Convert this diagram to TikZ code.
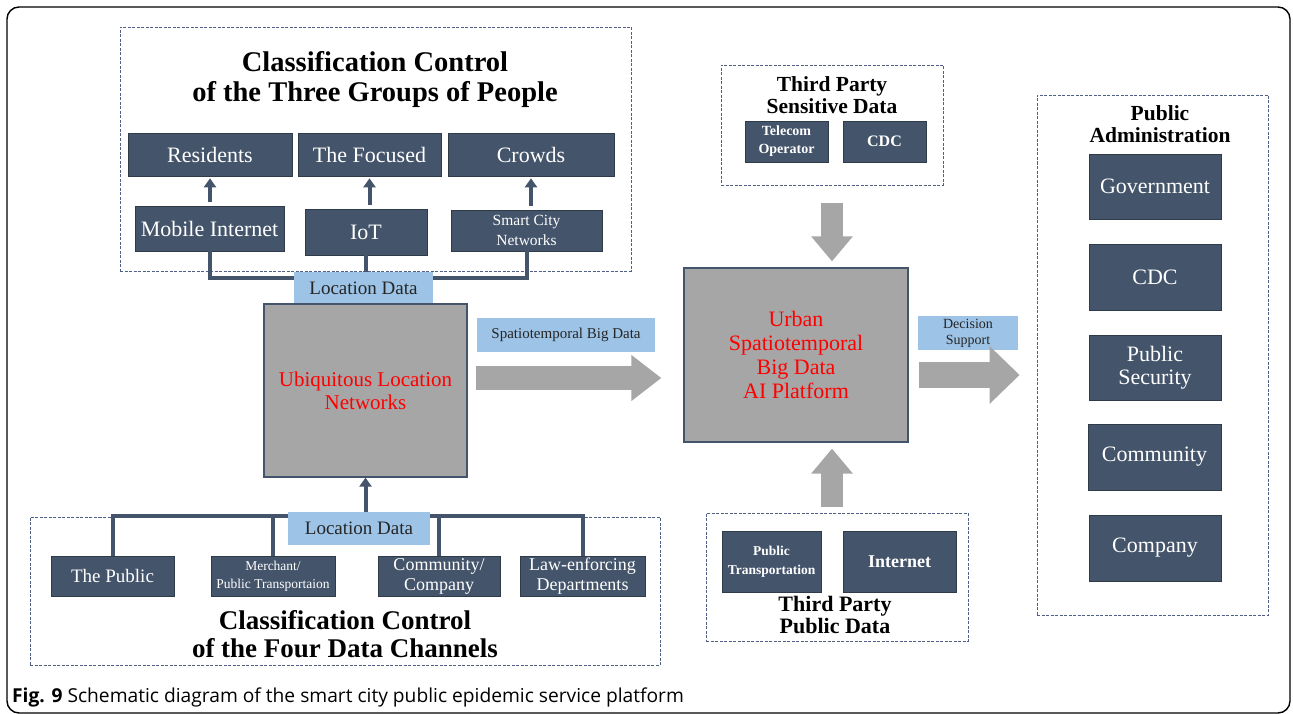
\documentclass[tikz,border=0pt]{standalone}
\usepackage{fontspec}
\setmainfont{Liberation Serif}
\newfontfamily\capfont{Open Sans}
\usetikzlibrary{arrows.meta}

\definecolor{boxblue}{HTML}{44546A}
\definecolor{labelblue}{HTML}{9DC3E6}
\definecolor{platgray}{HTML}{A6A6A6}
\definecolor{dashblue}{HTML}{4F5F85}

\tikzset{
  darkbox/.style = {fill = boxblue, draw = boxblue!70!black, line width = 0.6pt,
    text = white, align = center, inner sep = 0pt},
  labelbox/.style = {fill = labelblue, text = black!85, align = center, inner sep = 0pt},
  platbox/.style = {fill = platgray, draw = boxblue, line width = 1.2pt,
    text = red, align = center, inner sep = 0pt},
  groupbox/.style = {draw = dashblue, line width = 0.8pt, dash pattern = on 3pt off 1.5pt,
    inner sep = 0pt},
  link/.style = {draw = boxblue, line width = 4pt},
  linkarrow/.style = {link, -{Triangle[width = 12pt, length = 9pt]}},
  bigarrow/.style = {draw = platgray, line width = 24pt, -{Triangle[width = 44pt, length = 30pt]}},
  downarrow/.style = {draw = platgray, line width = 22pt, -{Triangle[width = 40pt, length = 25pt]}},
  decarrow/.style = {draw = platgray, line width = 26pt, -{Triangle[width = 56pt, length = 30pt]}},
  fbig/.style = {font = \fontsize{22}{24}\selectfont},
  fmid/.style = {font = \fontsize{18}{20}\selectfont},
  fsmall/.style = {font = \fontsize{14}{17}\selectfont}
}

\begin{document}
\begin{tikzpicture}[x = 1pt, y = -1pt]
  \useasboundingbox (0, 0) rectangle (1293, 714);
  \draw[line width = 1.4pt, rounded corners = 12pt] (7, 7) rectangle (1290, 713);

  % three groups of people
  \node[groupbox, minimum width = 511, minimum height = 244] (grp) at (375.5, 149) {};
  \node[font = \fontsize{28.5}{30}\selectfont\bfseries, align = center] (grptitle)
  at (375, 80) {Classification Control\\of the Three Groups of People};
  \node[darkbox, fbig, minimum width = 164, minimum height = 43] (res) at (210, 154.5) {Residents};
  \node[darkbox, fbig, minimum width = 143, minimum height = 43] (foc) at (369.5, 154.5) {The Focused};
  \node[darkbox, fbig, minimum width = 166, minimum height = 43] (crw) at (531, 154.5) {Crowds};
  \node[darkbox, fbig, minimum width = 149, minimum height = 45] (mob) at (209.5, 228.5) {Mobile Internet};
  \node[darkbox, fbig, minimum width = 122, minimum height = 46] (iot) at (366, 232) {IoT};
  \node[darkbox, font = \fontsize{15.5}{20}\selectfont, minimum width = 151, minimum height = 41]
  (scn) at (526.5, 230.5) {Smart City\\Networks};

  \draw[linkarrow, shorten <= 4pt, shorten >= 2pt] (res.south |- mob.north) -- (res.south);
  \draw[linkarrow, shorten <= 4pt, shorten >= 2pt] (foc.south |- iot.north) -- (foc.south);
  \draw[linkarrow, shorten <= 4pt, shorten >= 2pt] (crw.south |- scn.north) -- (crw.south);

  \draw[link] (mob.south) -- ++(0, 27) coordinate (busT) -| (scn.south);
  \draw[link] (iot.south) -- (iot.south |- busT);

  \node[labelbox, font = \fontsize{19}{21}\selectfont, minimum width = 139, minimum height = 32]
  (loctop) at (363.5, 288) {Location Data};
  \node[platbox, font = \fontsize{21}{23}\selectfont, minimum width = 203, minimum height = 173]
  (ubi) at (365.5, 390.5) {Ubiquitous Location\\Networks};

  % four data channels
  \node[groupbox, minimum width = 630, minimum height = 148] (chn) at (345, 591) {};
  \node[darkbox, font = \fontsize{19}{21}\selectfont, minimum width = 123, minimum height = 40]
  (pub) at (112.5, 576) {The Public};
  \node[darkbox, font = \fontsize{13.5}{18}\selectfont, minimum width = 124, minimum height = 40]
  (mer) at (273, 576) {Merchant/\\Public Transportaion};
  \node[darkbox, font = \fontsize{18}{20}\selectfont, minimum width = 122, minimum height = 40]
  (cmy) at (439, 576) {Community/\\Company};
  \node[darkbox, font = \fontsize{18}{20}\selectfont, minimum width = 125, minimum height = 40]
  (law) at (582.5, 576) {Law-enforcing\\Departments};

  \draw[link] (pub.north) -- ++(0, -40) coordinate (busB) -| (law.north);
  \draw[link] (mer.north) -- (mer.north |- busB);
  \draw[link] (cmy.north) -- (cmy.north |- busB);
  \draw[linkarrow, shorten <= -2pt] (busB -| ubi.south) -- (ubi.south);

  \node[labelbox, font = \fontsize{19}{21}\selectfont, minimum width = 142, minimum height = 33]
  (locbot) at (359, 528.5) {Location Data};
  \node[font = \fontsize{27}{28}\selectfont\bfseries, align = center] (chntitle)
  at (345, 634) {Classification Control\\of the Four Data Channels};

  % platform
  \node[labelbox, font = \fontsize{15}{17}\selectfont, minimum width = 178, minimum height = 34]
  (spat) at (566, 335) {Spatiotemporal Big Data};
  \node[platbox, fbig, minimum width = 224, minimum height = 174] (urb) at (796, 355)
  {Urban\\Spatiotemporal\\Big Data\\AI Platform};
  \draw[bigarrow] ([shift = {(8, -12.5)}]ubi.east) -- ([shift = {(-22, -12.5)}]ubi.east -| urb.west);

  % third party data
  \node[groupbox, minimum width = 222, minimum height = 120] (tps) at (832, 125) {};
  \node[font = \fontsize{21.5}{22}\selectfont\bfseries, align = center] (tpstitle)
  at (832, 95) {Third Party\\Sensitive Data};
  \node[darkbox, font = \fontsize{14}{18}\selectfont\bfseries, minimum width = 83, minimum height = 41]
  (tel) at (786.5, 141.5) {Telecom\\Operator};
  \node[darkbox, font = \fontsize{16}{18}\selectfont\bfseries, minimum width = 83, minimum height = 41]
  (cdcs) at (884.5, 141.5) {CDC};

  \node[groupbox, minimum width = 262, minimum height = 128] (tpp) at (837, 577) {};
  \node[darkbox, font = \fontsize{13.5}{19}\selectfont\bfseries, minimum width = 99, minimum height = 61]
  (ptr) at (771.5, 561.5) {Public\\Transportation};
  \node[darkbox, font = \fontsize{18}{20}\selectfont\bfseries, minimum width = 113, minimum height = 61]
  (inet) at (899.5, 561.5) {Internet};
  \node[font = \fontsize{22}{22}\selectfont\bfseries, align = center] (tpptitle)
  at (835, 615) {Third Party\\Public Data};

  \draw[downarrow, shorten >= 6pt] ([yshift = -18pt]tps.south) -- (tps.south |- urb.north);
  \draw[downarrow, shorten >= 6pt] ([yshift = 6pt]tps.south |- tpp.north) -- (tps.south |- urb.south);

  % public administration
  \node[labelbox, font = \fontsize{14}{16}\selectfont, minimum width = 100, minimum height = 34]
  (dec) at (968, 333) {Decision\\Support};
  \node[groupbox, minimum width = 231, minimum height = 520] (adm) at (1152.5, 355) {};
  \node[font = \fontsize{21.5}{22}\selectfont\bfseries, align = center] (admtitle)
  at (1160, 124) {Public\\Administration};
  \node[darkbox, fbig, minimum width = 132, minimum height = 65] (gov) at (1155, 186.5) {Government};
  \node[darkbox, fbig, minimum width = 132, minimum height = 66] (cdca) at (1155, 277) {CDC};
  \node[darkbox, font = \fontsize{22}{23}\selectfont, minimum width = 132, minimum height = 65]
  (sec) at (1155, 367.5) {Public\\Security};
  \node[darkbox, fbig, minimum width = 133, minimum height = 66] (com) at (1154.5, 457) {Community};
  \node[darkbox, fbig, minimum width = 132, minimum height = 66] (cpy) at (1155, 548) {Company};
  \draw[decarrow] ([shift = {(10, 20)}]urb.east) -- ([shift = {(-17, 20)}]urb.east -| adm.west);

  % caption
  \node[anchor = base west, inner sep = 0pt, font = \capfont\fontsize{19.2}{21}\selectfont]
  (cap) at (12, 702) {\textbf{Fig. 9} Schematic diagram of the smart city public epidemic service platform};
\end{tikzpicture}
\end{document}
